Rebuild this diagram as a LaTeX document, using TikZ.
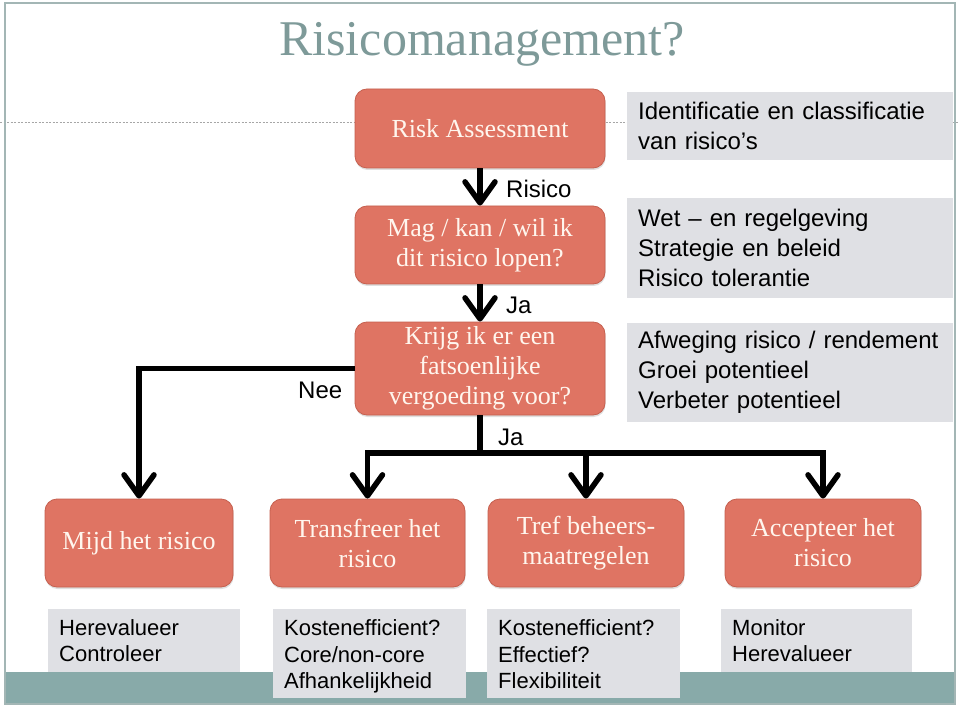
\documentclass[tikz,border=0pt]{standalone}
\usepackage{fontspec}
\setmainfont{Liberation Serif}
\newfontfamily\helv{Liberation Sans}
\usetikzlibrary{arrows.meta,shadows}
\definecolor{redbox}{HTML}{DF7463}
\definecolor{redline}{HTML}{C5604F}
\definecolor{redtext}{HTML}{FFF6EE}
\definecolor{graybox}{HTML}{DFE0E4}
\definecolor{bandc}{HTML}{88AAA9}
\definecolor{titlec}{HTML}{7E9A99}
\definecolor{framec}{HTML}{A3B6B5}
\begin{document}
\begin{tikzpicture}[x=1pt,y=-1pt,
  redstyle/.style={draw=redline, line width=0.8pt, fill=redbox, rounded corners=12pt,
    text=redtext, font=\fontsize{26}{30}\selectfont, align=center, inner sep=0pt,
    drop shadow={shadow xshift=0.5pt,shadow yshift=-2pt,opacity=0.25}},
  graystyle/.style={fill=graybox, draw=none, font=\helv\fontsize{24}{30}\selectfont,
    align=left, inner xsep=11pt, inner ysep=0pt, anchor=north west},
  smallgray/.style={graystyle, font=\helv\fontsize{22}{26.5}\selectfont},
  lbl/.style={font=\helv\fontsize{24}{28}\selectfont, inner sep=0pt},
  conn/.style={line width=5.5pt},
  arr/.style={conn, -{Straight Barb[length=21pt,width=30pt,line cap=round,line join=round]}}
]
\useasboundingbox (0,0) rectangle (960,708);
% slide frame and decorations
\fill[white] (0,0) rectangle (960,708);
\draw[gray!70, line width=0.6pt, dash pattern=on 2pt off 1.5pt] (0,122) -- (958,122);
\fill[bandc] (5,672) rectangle (955,703);
\draw[framec, line width=1.5pt] (5,3) rectangle (955,704);
% title
\node[font=\fontsize{50}{54}\selectfont, text=titlec, inner sep=0pt] (title) at (482,44) {Risicomanagement?};
% right gray boxes
\node[graystyle, text width=304pt, minimum height=68pt] (g1) at (627,92) {Identificatie en classificatie\\van risico’s};
\node[graystyle, text width=304pt, minimum height=100pt] (g2) at (627,198) {Wet – en regelgeving\\Strategie en beleid\\Risico tolerantie};
\node[graystyle, text width=304pt, minimum height=99pt] (g3) at (627,323) {Afweging risico / rendement\\Groei potentieel\\Verbeter potentieel};
% central red boxes
\node[redstyle, minimum width=250pt, minimum height=79pt] (ra) at (480,128.5) {Risk Assessment};
\node[redstyle, minimum width=250pt, minimum height=78pt] (mag) at (480,245) {Mag / kan / wil ik\\dit risico lopen?};
\node[redstyle, minimum width=250pt, minimum height=93pt] (krijg) at (480,368.5) {Krijg ik er een\\fatsoenlijke\\vergoeding voor?};
% bottom red boxes
\node[redstyle, minimum width=188pt, minimum height=88pt] (mijd) at (139,543) {Mijd het risico};
\node[redstyle, minimum width=195pt, minimum height=88pt] (trans) at (367.5,543) {Transfreer het\\risico};
\node[redstyle, minimum width=196pt, minimum height=88pt] (tref) at (586,543) {Tref beheers-\\maatregelen};
\node[redstyle, minimum width=196pt, minimum height=88pt] (acc) at (823,543) {Accepteer het\\risico};
% bottom gray boxes
\node[smallgray, text width=170pt, minimum height=63pt] (b1) at (48,609) {Herevalueer\\Controleer};
\node[smallgray, text width=171pt, minimum height=89pt] (b2) at (273,609) {\rule{0pt}{22pt}Kostenefficient?\\Core/non-core\\Afhankelijkheid\rule[-5pt]{0pt}{5pt}};
\node[smallgray, text width=171pt, minimum height=89pt] (b3) at (487,609) {\rule{0pt}{22pt}Kostenefficient?\\Effectief?\\Flexibiliteit\rule[-5pt]{0pt}{5pt}};
\node[smallgray, text width=169pt, minimum height=63pt] (b4) at (721,609) {Monitor\\Herevalueer};
% connectors
\coordinate (junc) at (480,453);
\draw[arr] (ra.south) -- (mag.north);
\draw[arr] (mag.south) -- (krijg.north);
\draw[conn] (krijg.south) -- (junc);
\draw[arr] (krijg.west) -| (mijd.north);
\draw[arr] (junc) -| (trans.north);
\draw[arr] (junc) -| (acc.north);
\draw[arr] (tref.north |- junc) -- (tref.north);
% labels
\node[lbl, anchor=west] (lrisico) at (506,188.5) {Risico};
\node[lbl, anchor=west] (lja1) at (506,305) {Ja};
\node[lbl, anchor=west] (lja2) at (498,437) {Ja};
\node[lbl, anchor=west] (lnee) at (298,390) {Nee};
\end{tikzpicture}
\end{document}
